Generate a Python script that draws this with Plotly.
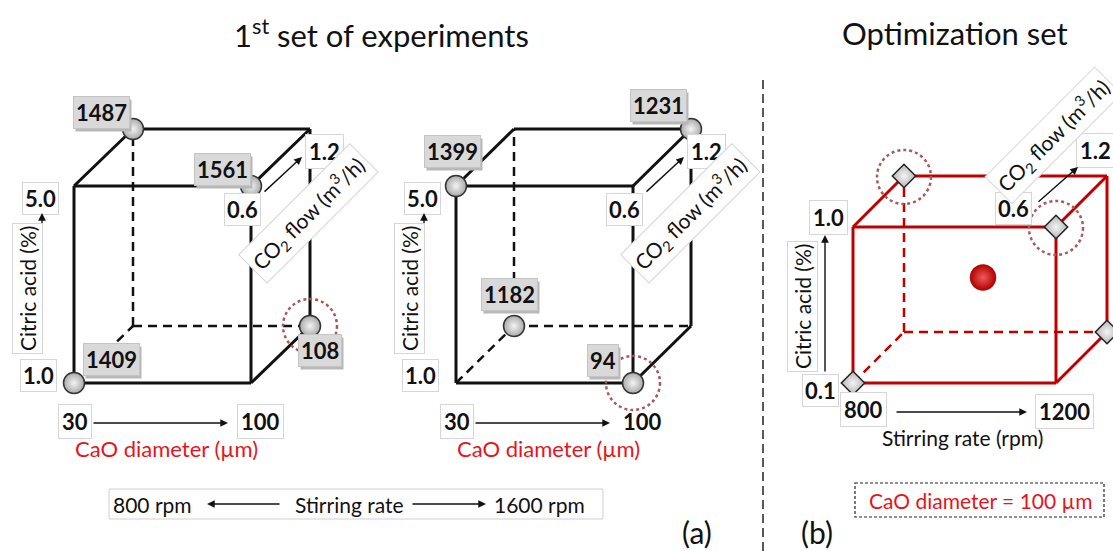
import plotly.graph_objects as go

# ------------------------------------------------------------------ data
# factor levels, panel (a)
cao_levels = [30, 100]            # CaO diameter (µm)
citric_levels_a = [1.0, 5.0]      # citric acid (%)
co2_levels = [0.6, 1.2]           # CO2 flow (m3/h)
stirring_levels_a = [800, 1600]   # rpm

# 1st set, cube at 800 rpm
set1_cao = [30, 100, 100, 30]
set1_citric = [5.0, 5.0, 1.0, 1.0]
set1_co2 = [1.2, 0.6, 1.2, 0.6]
set1_value = [1487, 1561, 108, 1409]

# 1st set, cube at 1600 rpm
set2_cao = [30, 100, 30, 100]
set2_citric = [5.0, 5.0, 1.0, 1.0]
set2_co2 = [0.6, 1.2, 1.2, 0.6]
set2_value = [1399, 1231, 1182, 94]

# optimization set (CaO diameter = 100 µm)
stirring_levels_b = [800, 1200]
citric_levels_b = [0.1, 1.0]
opt_stirring = [800, 800, 1200, 1200]
opt_citric = [0.1, 1.0, 1.0, 0.1]
opt_co2 = [0.6, 1.2, 0.6, 1.2]
opt_selected = [False, True, True, False]
opt_center = [1000, 0.55, 0.9]

# ------------------------------------------------------------------ layout helpers
W, H = 1113, 551
FONT = "Lato"
BLACK = "#111111"
RED = "#c00000"
TXT_RED = "#e8141c"

cube_a1 = dict(ox=74, oy=383, w=177, h=197, dx=59, dy=-57)
cube_a2 = dict(ox=456, oy=383, w=177, h=197, dx=58, dy=-57)
cube_b = dict(ox=853, oy=383, w=203, h=156, dx=51, dy=-51)


def norm(v, lv):
    return (v - lv[0]) / (lv[1] - lv[0])


def proj(c, u, v, w):
    return c["ox"] + u * c["w"] + w * c["dx"], c["oy"] - v * c["h"] + w * c["dy"]


fig = go.Figure()
annotations = []
shapes = []


def cube_edges(c, color):
    corners = [(u, v, w) for u in (0, 1) for v in (0, 1) for w in (0, 1)]
    sx, sy, dxs, dys = [], [], [], []
    for i, a in enumerate(corners):
        for b in corners[i + 1:]:
            if sum(abs(p - q) for p, q in zip(a, b)) != 1:
                continue
            (x0, y0), (x1, y1) = proj(c, *a), proj(c, *b)
            hidden = (0, 0, 1) in (a, b)
            tx, ty = (dxs, dys) if hidden else (sx, sy)
            tx += [x0, x1, None]
            ty += [y0, y1, None]
    fig.add_trace(go.Scatter(x=sx, y=sy, mode="lines", line=dict(color=color, width=3),
                             hoverinfo="skip", showlegend=False))
    fig.add_trace(go.Scatter(x=dxs, y=dys, mode="lines",
                             line=dict(color=color, width=2.5, dash="9px,6px"),
                             hoverinfo="skip", showlegend=False))


def text(x, y, t, size=22, bold=False, color=BLACK, box=False, angle=0, xanchor="center", pad=2):
    d = dict(x=x, y=y, xref="x", yref="y", text=t, showarrow=False, textangle=angle,
             xanchor=xanchor, yanchor="middle",
             font=dict(family=FONT, size=size, color=color, weight="bold" if bold else "normal"))
    if box:
        d.update(bgcolor="white", bordercolor="#d6d6d6", borderwidth=1, borderpad=pad)
    annotations.append(d)


def arrow(x0, y0, x1, y1):
    annotations.append(dict(x=x1, y=y1, ax=x0, ay=y0, xref="x", yref="y", axref="x", ayref="y",
                            text="", showarrow=True, arrowhead=2, arrowsize=1.1,
                            arrowwidth=1.4, arrowcolor=BLACK))


def value_label(x, y, t):
    # shadow
    annotations.append(dict(x=x + 2, y=y + 3, xref="x", yref="y", text=t, showarrow=False,
                            font=dict(family=FONT, size=22, color="rgba(0,0,0,0)", weight="bold"),
                            bgcolor="#b8b8b8", borderpad=2))
    annotations.append(dict(x=x, y=y, xref="x", yref="y", text=t, showarrow=False,
                            font=dict(family=FONT, size=22, color=BLACK, weight="bold"),
                            bgcolor="#d9d9d9", bordercolor="#c4c4c4", borderwidth=1, borderpad=2))


def dotted_circle(x, y, r=27):
    shapes.append(dict(type="circle", xref="x", yref="y", x0=x - r, x1=x + r, y0=y - r, y1=y + r,
                       line=dict(color="#a85a5a", width=2.5, dash="dot"), layer="above"))


# ------------------------------------------------------------------ panel (a)
label_offsets_1 = [(-32, -17), (-29, -17), (10, 24), (37, -24)]
label_offsets_2 = [(-4, -35), (-33, -24), (-5, -32), (-30, -23)]

for c, cao, cit, co2, val, offs, box100 in [
        (cube_a1, set1_cao, set1_citric, set1_co2, set1_value, label_offsets_1, True),
        (cube_a2, set2_cao, set2_citric, set2_co2, set2_value, label_offsets_2, False)]:
    cube_edges(c, BLACK)
    xs, ys = [], []
    for a, b, d in zip(cao, cit, co2):
        x, y = proj(c, norm(a, cao_levels), norm(b, citric_levels_a), norm(d, co2_levels))
        xs.append(x)
        ys.append(y)
    fig.add_trace(go.Scatter(x=xs, y=ys, mode="markers", hoverinfo="skip", showlegend=False,
                             marker=dict(size=21, color="#a9a9a9",
                                         gradient=dict(type="radial", color="#f4f4f4"),
                                         line=dict(color="#333333", width=1.5))))
    vmin = min(val)
    for x, y, v, (ox, oy) in zip(xs, ys, val, offs):
        value_label(x + ox, y + oy, str(v))
        if v == vmin:
            dotted_circle(x, y)
    ox0, oy0 = c["ox"], c["oy"]
    # citric acid axis
    text(ox0 - 34, oy0 - 185, f"{citric_levels_a[1]:.1f}", bold=True, box=True)
    text(ox0 - 36, oy0 - 8, f"{citric_levels_a[0]:.1f}", bold=True, box=True)
    arrow(ox0 - 32, oy0 - 28, ox0 - 32, oy0 - 170)
    text(ox0 - 47, oy0 - 94, "Citric acid (%)", size=21, box=True, angle=-90)
    # CO2 axis
    text(ox0 + 168, oy0 - 174, f"{co2_levels[0]:.1f}", bold=True, box=True)
    text(ox0 + 250, oy0 - 232, f"{co2_levels[1]:.1f}", bold=True, box=True, pad=3)
    arrow(ox0 + 189, oy0 - 190, ox0 + 228, oy0 - 226)
    text(ox0 + 234, oy0 - 170, "CO<sub>2</sub> flow (m<sup>3</sup>/h)", size=21, box=True,
         angle=-45, pad=4)
    # CaO axis
    text(ox0 + 1, oy0 + 38, str(cao_levels[0]), bold=True, box=True, pad=3)
    text(ox0 + 186, oy0 + 38, str(cao_levels[1]), bold=True, box=box100, pad=3)
    arrow(ox0 + 18, oy0 + 40, ox0 + 154, oy0 + 40)
    text(ox0 + 92, oy0 + 65, "CaO diameter (µm)", size=22, color=TXT_RED)

# stirring rate legend box
shapes.append(dict(type="rect", xref="x", yref="y", x0=109, x1=603, y0=489, y1=519,
                   line=dict(color="#cfcfcf", width=1), fillcolor="white", layer="below"))
text(152, 504, f"{stirring_levels_a[0]} rpm", size=21)
arrow(281, 504, 207, 504)
text(349, 504, "Stirring rate", size=21)
arrow(411, 504, 486, 504)
text(539, 504, f"{stirring_levels_a[1]} rpm", size=21)

# ------------------------------------------------------------------ panel (b)
cb = cube_b
cube_edges(cb, RED)
bx, by = [], []
for s, ci, co in zip(opt_stirring, opt_citric, opt_co2):
    x, y = proj(cb, norm(s, stirring_levels_b), norm(ci, citric_levels_b), norm(co, co2_levels))
    bx.append(x)
    by.append(y)
fig.add_trace(go.Scatter(x=bx, y=by, mode="markers", hoverinfo="skip", showlegend=False,
                         marker=dict(symbol="diamond", size=18, color="#b4b4b4",
                                     gradient=dict(type="radial", color="#f4f4f4"),
                                     line=dict(color="#222222", width=1.5))))
for x, y, sel in zip(bx, by, opt_selected):
    if sel:
        dotted_circle(x, y + 1)
cx, cy = proj(cb, norm(opt_center[0], stirring_levels_b), norm(opt_center[1], citric_levels_b),
              norm(opt_center[2], co2_levels))
fig.add_trace(go.Scatter(x=[cx + 3], y=[cy - 2], mode="markers", hoverinfo="skip", showlegend=False,
                         marker=dict(size=26, color="#b00000",
                                     gradient=dict(type="radial", color="#f05a5a"),
                                     line=dict(color="#9a0000", width=0.5))))

ox0, oy0 = cb["ox"], cb["oy"]
text(ox0 - 25, oy0 - 166, f"{citric_levels_b[1]:.1f}", bold=True, box=True, pad=3)
text(ox0 - 33, oy0 + 7, f"{citric_levels_b[0]:.1f}", bold=True, box=True)
arrow(ox0 - 28, oy0 - 10, ox0 - 28, oy0 - 148)
text(ox0 - 51, oy0 - 76, "Citric acid (%)", size=21, box=True, angle=-90)
text(ox0 + 10, oy0 + 26, str(stirring_levels_b[0]), bold=True, box=True, pad=3)
text(ox0 + 211, oy0 + 28, str(stirring_levels_b[1]), bold=True, box=True, pad=3)
arrow(ox0 + 42, oy0 + 29, ox0 + 174, oy0 + 29)
text(ox0 + 109, oy0 + 54, "Stirring rate (rpm)", size=21)
text(ox0 + 160, oy0 - 175, f"{co2_levels[0]:.1f}", bold=True, box=True)
text(ox0 + 242, oy0 - 233, f"{co2_levels[1]:.1f}", bold=True, box=True, pad=3)
arrow(ox0 + 184, oy0 - 180, ox0 + 225, oy0 - 216)
text(ox0 + 200, oy0 - 248, "CO<sub>2</sub> flow (m<sup>3</sup>/h)", size=21, box=True,
     angle=-45, pad=3)

shapes.append(dict(type="rect", xref="x", yref="y", x0=855, x1=1104, y0=483, y1=517,
                   line=dict(color="#222222", width=1.2, dash="3px,2px"), fillcolor="white",
                   layer="below"))
text(980, 500, "CaO diameter = 100 µm", size=21, color=TXT_RED)

# ------------------------------------------------------------------ titles, separators
text(381, 33, "1<sup>st</sup> set of experiments", size=31)
text(955, 33, "Optimization set", size=31)
text(697, 532, "(a)", size=30)
text(817, 532, "(b)", size=30)
fig.add_trace(go.Scatter(x=[763, 763], y=[80, 551], mode="lines", hoverinfo="skip",
                         showlegend=False, line=dict(color="#222222", width=1.5, dash="9px,5px")))

fig.update_layout(
    width=W, height=H, margin=dict(l=0, r=0, t=0, b=0),
    paper_bgcolor="white", plot_bgcolor="white",
    xaxis=dict(range=[0, W], visible=False, fixedrange=True),
    yaxis=dict(range=[H, 0], visible=False, fixedrange=True),
    annotations=annotations, shapes=shapes, showlegend=False,
)

fig.write_html("out.html", config={"displayModeBar": False},
               post_script="document.body.style.margin='0';")
